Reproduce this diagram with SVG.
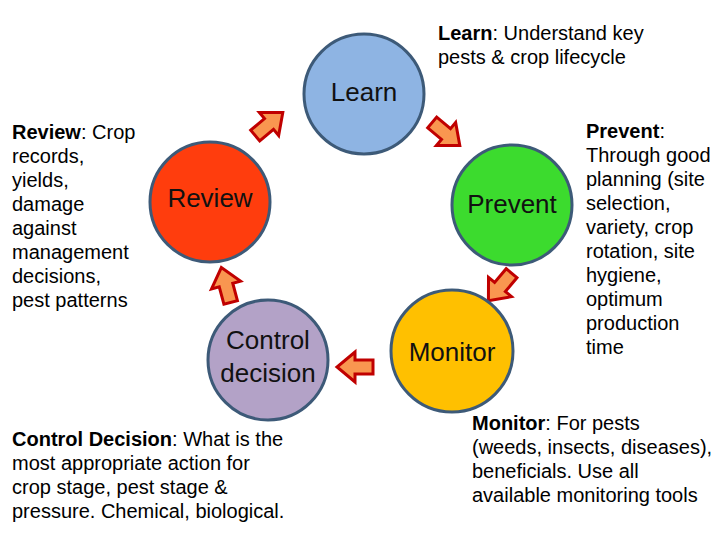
<svg xmlns="http://www.w3.org/2000/svg" width="720" height="540" viewBox="0 0 720 540">
<style>
.node{stroke:#3d5a78;stroke-width:3}
.lbl{font-family:"Liberation Sans",Arial,sans-serif;font-size:26px;fill:#111;text-anchor:middle}
.desc{font-family:"Liberation Sans",Arial,sans-serif;font-size:20px;fill:#000}
.b{font-weight:bold}
.arr{fill:#F99650;stroke:#C00000;stroke-width:3;stroke-linejoin:miter}
</style>
<defs>
<path id="blk" d="M-18,-7 L0,-7 L0,-15 L18,0 L0,15 L0,7 L-18,7 Z"/>
</defs>
<rect width="720" height="540" fill="#fff"/>
<g id="connectors">
<use href="#blk" class="arr" transform="translate(269,124) rotate(-40)"/>
<use href="#blk" class="arr" transform="translate(446,134) rotate(40)"/>
<use href="#blk" class="arr" transform="translate(500,287) rotate(130)"/>
<use href="#blk" class="arr" transform="translate(355,367) rotate(180)"/>
<use href="#blk" class="arr" transform="translate(226,285) rotate(-105)"/>
</g>
<g id="learn">
<circle class="node" cx="364" cy="94" r="60" fill="#8EB4E3"/>
<text class="lbl" x="364" y="101">Learn</text>
</g>
<g id="prevent">
<circle class="node" cx="512" cy="205" r="60" fill="#3CDB2E"/>
<text class="lbl" x="512" y="213">Prevent</text>
</g>
<g id="monitor">
<circle class="node" cx="452" cy="351" r="61" fill="#FFC000"/>
<text class="lbl" x="452" y="361">Monitor</text>
</g>
<g id="control">
<circle class="node" cx="268" cy="360" r="60" fill="#B3A2C7"/>
<text class="lbl" x="268" y="349">Control</text>
<text class="lbl" x="268" y="382">decision</text>
</g>
<g id="review">
<circle class="node" cx="210" cy="202" r="60" fill="#FF3D0D"/>
<text class="lbl" x="210" y="207">Review</text>
</g>
<g id="learn-desc">
<text class="desc" x="438" y="40"><tspan class="b">Learn</tspan>: Understand key</text>
<text class="desc" x="438" y="64">pests &amp; crop lifecycle</text>
</g>
<g id="review-desc">
<text class="desc" x="12" y="139"><tspan class="b">Review</tspan>: Crop</text>
<text class="desc" x="12" y="163">records,</text>
<text class="desc" x="12" y="187">yields,</text>
<text class="desc" x="12" y="211">damage</text>
<text class="desc" x="12" y="235">against</text>
<text class="desc" x="12" y="259">management</text>
<text class="desc" x="12" y="283">decisions,</text>
<text class="desc" x="12" y="307">pest patterns</text>
</g>
<g id="prevent-desc">
<text class="desc" x="586" y="138"><tspan class="b">Prevent</tspan>:</text>
<text class="desc" x="586" y="162">Through good</text>
<text class="desc" x="586" y="186">planning (site</text>
<text class="desc" x="586" y="210">selection,</text>
<text class="desc" x="586" y="234">variety, crop</text>
<text class="desc" x="586" y="258">rotation, site</text>
<text class="desc" x="586" y="282">hygiene,</text>
<text class="desc" x="586" y="306">optimum</text>
<text class="desc" x="586" y="330">production</text>
<text class="desc" x="586" y="354">time</text>
</g>
<g id="control-desc">
<text class="desc" x="12" y="446"><tspan class="b">Control Decision</tspan>: What is the</text>
<text class="desc" x="12" y="470">most appropriate action for</text>
<text class="desc" x="12" y="494">crop stage, pest stage &amp;</text>
<text class="desc" x="12" y="518">pressure. Chemical, biological.</text>
</g>
<g id="monitor-desc">
<text class="desc" x="472" y="430"><tspan class="b">Monitor</tspan>: For pests</text>
<text class="desc" x="472" y="454">(weeds, insects, diseases),</text>
<text class="desc" x="472" y="478">beneficials. Use all</text>
<text class="desc" x="472" y="502">available monitoring tools</text>
</g>
</svg>
